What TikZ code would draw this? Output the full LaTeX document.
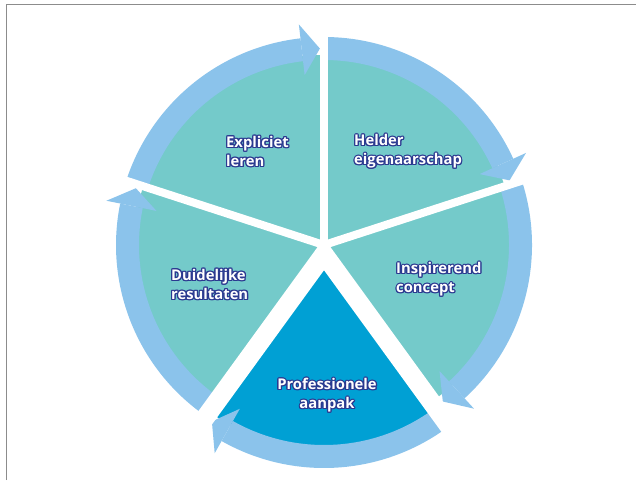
\documentclass[tikz,border=0pt]{standalone}
\usepackage{fontspec}
\setmainfont{Open Sans}
\usepackage{contour}
\contourlength{1.2pt}
\contournumber{12}
\definecolor{tealc}{HTML}{74CACA}
\definecolor{darkc}{HTML}{00A0D4}
\definecolor{bandc}{HTML}{8BC3EB}
\definecolor{outl}{HTML}{2B3990}
\definecolor{framec}{HTML}{8C8C8C}
\newcommand\bandarrow[3]{% #1 centre, #2 start angle, #3 end angle
  \begin{scope}[shift={(#1)}]
    \fill[bandc] (#2:185pt) arc[start angle=#2, end angle=#3+6.5, radius=185pt]
      -- (#3+6.5:208pt) arc[start angle=#3+6.5, end angle=#2, radius=208pt] -- cycle;
    \fill[bandc] (#3+6.5:171pt) -- (#3+6.5:222pt) -- (#3+1.2:196.5pt) -- cycle;
  \end{scope}}
\newcommand\wedgefill[4]{% #1 colour, #2 centre, #3 start, #4 end
  \fill[#1] (#2) -- ++(#3:190pt) arc[start angle=#3, end angle=#4, radius=190pt] -- cycle;}
\begin{document}
\begin{tikzpicture}[x=1pt,y=1pt,
  lbl/.style={text=white, font=\bfseries\fontsize{14.8}{19}\selectfont, inner sep=0pt},
  gap/.style={white, line width=8pt},
  gapwide/.style={white, line width=12pt}]
\useasboundingbox (0,0) rectangle (636,480);
\coordinate (C) at (324,235);
\coordinate (D) at (324,220);
% sectors
\wedgefill{tealc}{C}{162}{90}
\wedgefill{tealc}{C}{90}{18}
\wedgefill{tealc}{C}{18}{-54}
\wedgefill{tealc}{C}{-126}{-198}
\wedgefill{darkc}{D}{-54}{-126}
% arrow bands
\bandarrow{C}{162}{90}
\bandarrow{C}{90}{18}
\bandarrow{C}{18}{-54}
\bandarrow{C}{-126}{-198}
\bandarrow{D}{-54}{-126}
% gaps
\foreach \a in {90,18,162,-54,-126} \draw[gap] (C) -- ++(\a:245pt);
\foreach \a in {-54,-126} \draw[gapwide] (D) -- ++(\a:245pt);
% frame
\draw[framec, line width=1.5pt] (6.5,0) -- (6.5,475.5) -- (636,475.5);
% labels
\node[lbl, anchor=west, align=left] (l1) at (226,328) {\contour{outl}{Expliciet}\\\contour{outl}{leren}};
\node[lbl, anchor=west, align=left] (l2) at (354,328) {\contour{outl}{Helder}\\\contour{outl}{eigenaarschap}};
\node[lbl, anchor=west, align=left] (l3) at (396,200) {\contour{outl}{Inspirerend}\\\contour{outl}{concept}};
\node[lbl, anchor=west, align=left] (l4) at (171,195) {\contour{outl}{Duidelijke}\\\contour{outl}{resultaten}};
\node[lbl, align=center] (l5) at (327,84) {\contour{outl}{Professionele}\\\contour{outl}{aanpak}};
\end{tikzpicture}
\end{document}
